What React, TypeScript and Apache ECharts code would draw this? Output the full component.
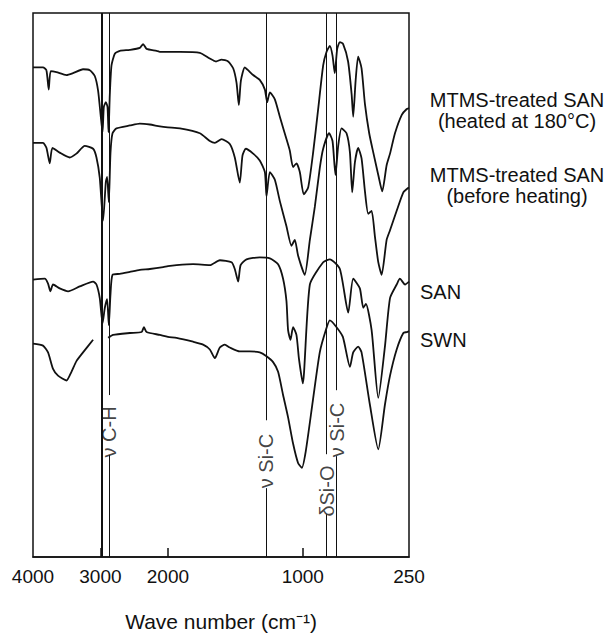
import React, { useEffect, useRef } from "react";
import * as echarts from "echarts";

// Wavenumber tick labels (cm^-1)
const WAVENUMBER_TICKS = [4000, 3000, 2000, 1000, 250];
const MINOR_TICKS = [3000, 2000, 1000];

// Spectra: [wavenumber (cm^-1), transmittance (arbitrary offset units)]
const mtmsHeated: [number, number][] = [
  [4000, 505], [3852, 505], [3801, 502], [3767, 482], [3737, 501], [3653, 500], [3504, 497], [3406, 499],
  [3258, 503], [3158, 502], [3084, 496], [3035, 481], [2999, 457], [2969, 438], [2950, 464], [2920, 469],
  [2895, 464], [2880, 438], [2861, 477], [2836, 507], [2787, 519], [2713, 522], [2564, 523], [2416, 525],
  [2367, 529], [2316, 524], [2168, 522], [2119, 521], [2000, 521], [1911, 521], [1763, 520], [1689, 514],
  [1644, 511], [1602, 513], [1553, 511], [1516, 504], [1491, 489], [1474, 466], [1459, 491], [1430, 505],
  [1405, 502], [1368, 497], [1319, 492], [1281, 482], [1264, 469], [1244, 479], [1207, 472], [1170, 454],
  [1121, 431], [1096, 419], [1072, 402], [1047, 406], [1022, 397], [993, 374], [962, 381], [927, 417],
  [892, 461], [856, 507], [832, 521], [809, 527], [790, 517], [774, 499], [757, 524], [738, 531],
  [715, 529], [680, 511], [655, 477], [644, 454], [627, 491], [609, 516], [585, 504], [561, 467],
  [531, 437], [502, 417], [467, 394], [439, 377], [408, 404], [384, 416], [349, 437], [301, 456],
  [266, 462], [250, 463],
];

const mtmsBefore: [number, number][] = [
  [4000, 427], [3852, 427], [3801, 422], [3752, 406], [3712, 422], [3604, 417], [3455, 412], [3356, 416],
  [3232, 424], [3109, 421], [3059, 412], [3010, 391], [2961, 347], [2920, 387], [2901, 392], [2876, 366],
  [2851, 417], [2821, 437], [2762, 442], [2564, 445], [2416, 447], [2267, 446], [2119, 444], [2000, 443],
  [1911, 442], [1763, 437], [1689, 429], [1652, 427], [1602, 431], [1541, 426], [1504, 412], [1467, 386],
  [1447, 414], [1422, 421], [1368, 416], [1319, 409], [1281, 397], [1269, 372], [1244, 397], [1207, 389],
  [1170, 367], [1121, 341], [1084, 321], [1059, 327], [1035, 311], [986, 291], [950, 327], [915, 361],
  [880, 401], [856, 421], [814, 437], [790, 429], [769, 394], [750, 424], [726, 442], [691, 437],
  [667, 417], [651, 376], [632, 407], [609, 422], [585, 411], [561, 377], [538, 354], [514, 357],
  [491, 331], [467, 304], [443, 291], [408, 327], [384, 337], [337, 357], [290, 376], [261, 380],
  [250, 381],
];

const san: [number, number][] = [
  [4000, 286], [3826, 287], [3777, 282], [3742, 274], [3703, 281], [3604, 277], [3480, 274], [3307, 279],
  [3109, 284], [3059, 281], [3010, 267], [2969, 241], [2935, 257], [2901, 266], [2876, 239], [2851, 271],
  [2821, 291], [2713, 292], [2564, 294], [2416, 296], [2267, 297], [2069, 299], [2000, 300], [1936, 301],
  [1813, 302], [1689, 301], [1615, 306], [1528, 304], [1504, 297], [1479, 284], [1461, 301], [1417, 307],
  [1319, 309], [1244, 308], [1183, 302], [1146, 287], [1121, 264], [1109, 234], [1091, 224], [1072, 237],
  [1047, 229], [1028, 204], [1000, 179], [950, 281], [856, 304], [809, 307], [738, 297], [679, 252],
  [644, 287], [597, 277], [573, 257], [554, 261], [514, 234], [467, 164], [420, 217], [384, 267],
  [337, 281], [314, 287], [278, 281], [250, 284],
];

const swn: ([number, number] | null)[] = [
  [4000, 220], [3852, 218], [3777, 211], [3703, 194], [3629, 187], [3504, 182], [3430, 191], [3356, 202],
  [3258, 211], [3109, 224], null, [2886, 226], [2812, 229], [2564, 231], [2390, 232], [2356, 237],
  [2316, 232], [2119, 229], [2000, 227], [1936, 226], [1813, 222], [1739, 219], [1689, 214], [1652, 205],
  [1615, 216], [1578, 219], [1541, 216], [1467, 212], [1393, 212], [1319, 211], [1269, 207], [1220, 201],
  [1183, 191], [1146, 167], [1109, 144], [1072, 117], [1035, 97], [1007, 92], [979, 109], [929, 161],
  [880, 211], [837, 234], [809, 244], [767, 238], [717, 227], [667, 196], [644, 211], [609, 217],
  [585, 211], [526, 157], [467, 111], [420, 157], [384, 187], [337, 214], [290, 231], [266, 232],
  [250, 233],
];

// Band assignment lines (cm^-1)
const BAND_LINES = [2988, 2968, 2871, 1274, 832, 761];
// level: centre of the label (same units as spectra); gap: half-length of the break in the line
const BAND_LABELS = [
  { wn: 2871, text: "ν C-H", level: 136, gap: 31 },
  { wn: 1274, text: "ν Si-C", level: 106, gap: 35 },
  { wn: 832, text: "δSi-O", level: 75, gap: 31 },
  { wn: 761, text: "ν Si-C", level: 138, gap: 34 },
];

// Series names shown at the right
const SERIES_LABELS = [
  "MTMS-treated SAN\n(heated at 180°C)",
  "MTMS-treated SAN\n(before heating)",
  "SAN",
  "SWN",
];

const Y_MAX = 561;
const LABEL_SHIFT = 7; // rotated label anchor correction

// IR-style axis: scale changes at 2000 and 1000 cm^-1
const toAxis = (wn: number) =>
  wn >= 2000 ? 4000 - wn : wn >= 1000 ? 2000 + (2000 - wn) * 2 : 4000 + (1000 - wn) * 2.1;

const FONT = "'Liberation Sans', Arial, Helvetica, sans-serif";

const conv = (arr: ([number, number] | null)[]) =>
  arr.map((p) => (p ? [toAxis(p[0]), p[1]] : [null, null]));

// Build the band lines, broken where a label sits on them
const bandSegments = () => {
  const segs: any[] = [];
  BAND_LINES.forEach((w) => {
    const x = toAxis(w);
    const lab = BAND_LABELS.find((b) => b.wn === w);
    if (lab) {
      segs.push([{ coord: [x, 0] }, { coord: [x, lab.level - lab.gap] }]);
      segs.push([{ coord: [x, lab.level + lab.gap] }, { coord: [x, Y_MAX] }]);
    } else {
      segs.push([{ coord: [x, 0] }, { coord: [x, Y_MAX] }]);
    }
  });
  return segs;
};

export default function App() {
  const ref = useRef<HTMLDivElement>(null);
  useEffect(() => {
    if (!ref.current) return;
    const chart = echarts.init(ref.current, undefined, { renderer: "svg" });
    const lineBase = {
      type: "line",
      showSymbol: false,
      symbol: "none",
      smooth: 0.2,
      connectNulls: false,
      lineStyle: { color: "#111", width: 1.8 },
      silent: true,
    };
    const textEl = (text: string, x: number, y: number, align: string) => ({
      type: "text",
      x,
      y,
      silent: true,
      style: {
        text,
        fill: "#111",
        fontSize: 20,
        lineHeight: 21,
        fontFamily: FONT,
        textAlign: align,
        align,
        textVerticalAlign: "middle",
        verticalAlign: "middle",
      },
    });
    chart.setOption({
      animation: false,
      backgroundColor: "#fff",
      grid: {
        left: 33,
        right: 207,
        top: 13,
        bottom: 63,
        show: true,
        borderColor: "#111",
        borderWidth: 1.5,
        backgroundColor: "transparent",
      },
      xAxis: {
        type: "value",
        min: 0,
        max: toAxis(250),
        name: "Wave number (cm⁻¹)",
        nameLocation: "middle",
        nameGap: 54,
        nameTextStyle: { fontSize: 21, color: "#111", fontFamily: FONT },
        axisLine: { show: true, lineStyle: { color: "#111", width: 1.5 } },
        splitLine: { show: false },
        axisTick: {
          show: true,
          inside: true,
          length: 9,
          customValues: MINOR_TICKS.map(toAxis),
          lineStyle: { color: "#111", width: 1.5 },
        },
        axisLabel: {
          show: true,
          customValues: WAVENUMBER_TICKS.map(toAxis),
          margin: 10,
          fontSize: 19,
          color: "#111",
          fontFamily: FONT,
          formatter: (v: number) => {
            const t = WAVENUMBER_TICKS.find((w) => Math.abs(toAxis(w) - v) < 1e-6);
            return t === undefined ? "" : String(t);
          },
        },
      },
      yAxis: {
        type: "value",
        min: 0,
        max: Y_MAX,
        show: false,
        splitLine: { show: false },
      },
      series: [
        {
          ...lineBase,
          name: "MTMS-treated SAN (heated at 180°C)",
          data: conv(mtmsHeated),
          markLine: {
            silent: true,
            symbol: ["none", "none"],
            label: { show: false },
            lineStyle: { color: "#111", width: 1, type: "solid" },
            data: bandSegments(),
          },
        },
        { ...lineBase, name: "MTMS-treated SAN (before heating)", data: conv(mtmsBefore) },
        { ...lineBase, name: "SAN", data: conv(san) },
        { ...lineBase, name: "SWN", data: conv(swn) },
        {
          type: "scatter",
          name: "bands",
          z: 10,
          symbolSize: 0,
          silent: true,
          data: BAND_LABELS.map((b) => ({ value: [toAxis(b.wn), b.level - LABEL_SHIFT], name: b.text })),
          label: {
            show: true,
            position: "inside",
            rotate: 90,
            formatter: (p: any) => p.name,
            fontSize: 20,
            lineHeight: 16,
            color: "#111",
            fontFamily: FONT,
            align: "center",
            verticalAlign: "middle",
          },
        },
      ],
      graphic: [
        textEl(SERIES_LABELS[0], 517, 110, "center"),
        textEl(SERIES_LABELS[1], 517, 185, "center"),
        textEl(SERIES_LABELS[2], 420, 292, "left"),
        textEl(SERIES_LABELS[3], 420, 340, "left"),
      ],
    });
    return () => chart.dispose();
  }, []);
  return (
    <div
      ref={ref}
      style={{ position: "absolute", left: 0, top: 0, width: 616, height: 637, background: "#fff" }}
    />
  );
}
